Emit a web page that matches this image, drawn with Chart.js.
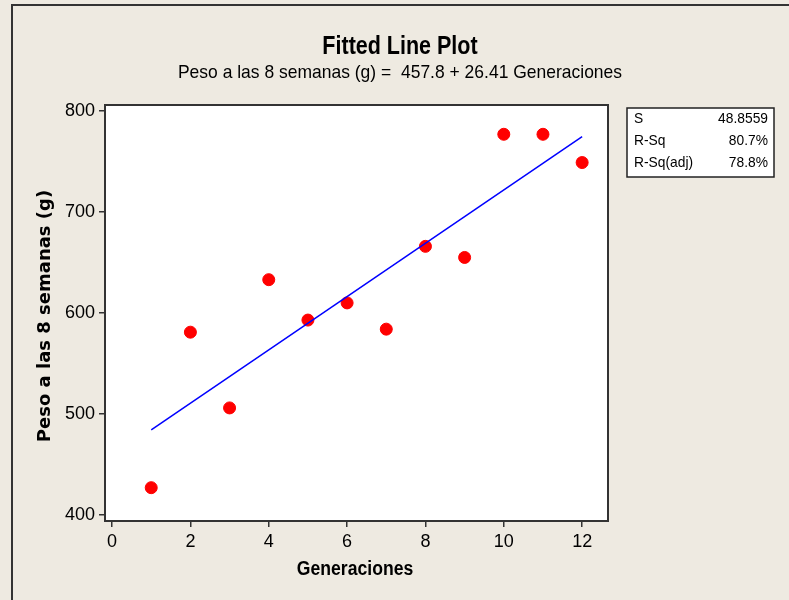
<!DOCTYPE html>
<html>
<head>
<meta charset="utf-8">
<script src="https://cdn.jsdelivr.net/npm/chart.js@4"></script>
<style>
body { margin: 0; background: #eeeae1; }
#wrap { width: 789px; height: 600px; }
</style>
</head>
<body>
<div id="wrap"><canvas id="fitChart" width="789" height="600"></canvas></div>
<script>
// data
const generaciones = [1, 2, 3, 4, 5, 6, 7, 8, 9, 10, 11, 12];
const peso = [427, 581, 506, 633, 593, 610, 584, 666, 655, 777, 777, 749];

// fitted line: 457.8 + 26.41 x, at the ends of the data
const fitX = [1, 12];
const fitY = [484.2, 774.7];

const xTicks = [0, 2, 4, 6, 8, 10, 12];
const yTicks = [400, 500, 600, 700, 800];

const statLabels = ["S", "R-Sq", "R-Sq(adj)"];
const statValues = ["48.8559", "80.7%", "78.8%"];

const sans = '"Liberation Sans", Arial, sans-serif';

// draw text squeezed sideways, to get closer to the condensed Minitab look
function squeezedText(ctx, text, x, y, font, sx) {
    ctx.save();
    ctx.translate(x, y);
    ctx.scale(sx, 1);
    ctx.font = font;
    ctx.fillText(text, 0, 0);
    ctx.restore();
}

const framePlugin = {
    id: "frame",
    beforeDraw(chart) {
        const ctx = chart.ctx;
        ctx.save();
        ctx.fillStyle = "#eeeae1";
        ctx.fillRect(0, 0, chart.width, chart.height);
        // outer border (top and left only visible)
        ctx.fillStyle = "#333";
        ctx.fillRect(11, 4, chart.width, 2);
        ctx.fillRect(11, 4, 2, chart.height);
        // white plot area
        const a = chart.chartArea;
        ctx.fillStyle = "#ffffff";
        ctx.fillRect(a.left, a.top, a.right - a.left, a.bottom - a.top);
        ctx.restore();
    },
    afterDraw(chart) {
        const ctx = chart.ctx;
        const a = chart.chartArea;
        ctx.save();
        ctx.strokeStyle = "#333";
        ctx.lineWidth = 2;
        ctx.strokeRect(a.left, a.top, a.right - a.left, a.bottom - a.top);

        // titles
        ctx.fillStyle = "#000";
        ctx.textAlign = "center";
        ctx.textBaseline = "middle";
        squeezedText(ctx, "Fitted Line Plot", 400, 47, "bold 25px " + sans, 0.86);
        squeezedText(ctx, "Peso a las 8 semanas (g) =  457.8 + 26.41 Generaciones", 400, 73, "19px " + sans, 0.92);

        // axis titles
        squeezedText(ctx, "Generaciones", 355, 569, "bold 20px " + sans, 0.88);
        ctx.save();
        ctx.translate(45, 316);
        ctx.rotate(-Math.PI / 2);
        ctx.font = 'bold 18px "DejaVu Sans", sans-serif';
        ctx.fillText("Peso a las 8 semanas (g)", 0, 0);
        ctx.restore();

        // stats box
        const bx = 627, by = 108, bw = 147, bh = 69;
        ctx.fillStyle = "#ffffff";
        ctx.fillRect(bx, by, bw, bh);
        ctx.strokeStyle = "#222";
        ctx.lineWidth = 1.5;
        ctx.strokeRect(bx, by, bw, bh);
        ctx.fillStyle = "#000";
        statLabels.forEach((lab, i) => {
            const y = by + 11 + i * 22;
            ctx.textAlign = "left";
            squeezedText(ctx, lab, bx + 7, y, "15px " + sans, 0.92);
            ctx.textAlign = "right";
            squeezedText(ctx, statValues[i], bx + bw - 6, y, "15px " + sans, 0.92);
        });
        ctx.restore();
    }
};

const ctx = document.getElementById("fitChart").getContext("2d");
new Chart(ctx, {
    type: "scatter",
    data: {
        datasets: [
            {
                label: "Regression",
                type: "line",
                data: fitX.map((x, i) => ({ x: x, y: fitY[i] })),
                borderColor: "#0000ff",
                borderWidth: 1.5,
                pointRadius: 0,
                fill: false
            },
            {
                label: "Peso",
                data: generaciones.map((x, i) => ({ x: x, y: peso[i] })),
                backgroundColor: "#ff0000",
                borderColor: "#ff0000",
                pointRadius: 6,
                pointHoverRadius: 6
            }
        ]
    },
    options: {
        responsive: false,
        animation: false,
        devicePixelRatio: 1,
        layout: { padding: { left: 0, top: 105, right: 181, bottom: 0 } },
        plugins: {
            legend: { display: false },
            tooltip: { enabled: false }
        },
        scales: {
            x: {
                type: "linear",
                min: -0.18,
                max: 12.66,
                afterBuildTicks: scale => { scale.ticks = xTicks.map(v => ({ value: v })); },
                afterFit: scale => { scale.height = 79; },
                grid: { drawOnChartArea: false, drawTicks: true, tickLength: 6, color: "#333", lineWidth: 1.5 },
                border: { display: false },
                ticks: { color: "#000", font: { family: sans, size: 18 }, padding: 4, maxRotation: 0 }
            },
            y: {
                min: 394,
                max: 806,
                afterBuildTicks: scale => { scale.ticks = yTicks.map(v => ({ value: v })); },
                afterFit: scale => { scale.width = 105; },
                grid: { drawOnChartArea: false, drawTicks: true, tickLength: 6, color: "#333", lineWidth: 1.5 },
                border: { display: false },
                ticks: { color: "#000", font: { family: sans, size: 18 }, padding: 4 }
            }
        }
    },
    plugins: [framePlugin]
});
</script>
</body>
</html>
